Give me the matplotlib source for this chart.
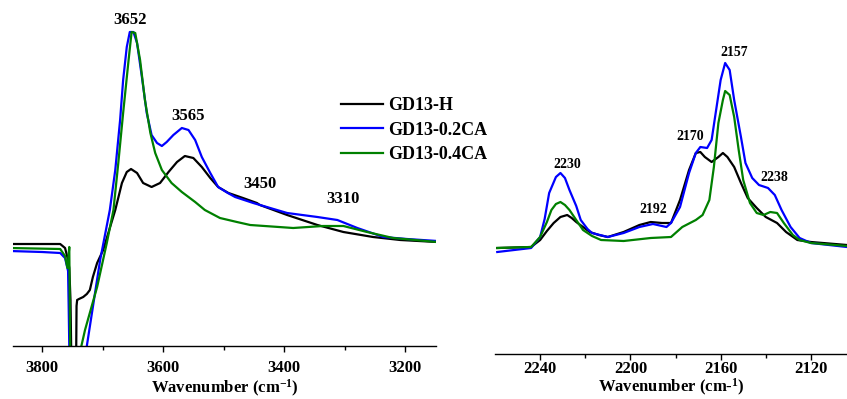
import matplotlib
matplotlib.use('Agg')
import matplotlib.pyplot as plt

plt.rcParams['font.family'] = ['Liberation Serif', 'DejaVu Serif']
plt.rcParams['font.weight'] = 'bold'
plt.rcParams['mathtext.fontset'] = 'custom'
plt.rcParams['mathtext.rm'] = 'Liberation Serif:bold'
plt.rcParams['mathtext.bf'] = 'Liberation Serif:bold'
plt.rcParams['mathtext.default'] = 'bf'

# ---- OH region (left panel), heights in arbitrary units ----
oh_h_wn = [3853, 3800, 3770, 3762, 3757, 3755, 3753, 3751, 3746, 3744, 3743, 3742, 3739,
           3732, 3726, 3721, 3716, 3709, 3699, 3688, 3679, 3668, 3660, 3653, 3643, 3633,
           3619, 3605, 3591, 3577, 3564, 3550, 3536, 3522, 3509, 3492, 3468, 3445, 3440,
           3395, 3345, 3302, 3253, 3208, 3147]
oh_h = [102, 102, 102, 98, 86, 78, 46, -40, -40, -40, 40, 46, 47,
        49, 52, 56, 69, 83, 96, 118, 136, 163, 174, 177, 173, 163,
        159, 163, 174, 184, 190, 188, 179, 168, 159, 153, 148, 143, 141,
        131, 121, 114, 109, 106, 104]

oh_b_wn = [3853, 3800, 3770, 3762, 3757, 3756, 3754, 3728, 3726, 3704, 3688, 3679, 3671,
           3666, 3660, 3655, 3649, 3643, 3635, 3627, 3619, 3610, 3602, 3594, 3583, 3569,
           3558, 3547, 3536, 3522, 3509, 3493, 3481, 3451, 3395, 3345, 3312, 3279, 3236,
           3197, 3147]
oh_b = [95, 94, 93, 88, 75, 40, -40, -10, 0, 86, 136, 176, 226,
        266, 299, 314, 314, 303, 269, 233, 211, 203, 200, 204, 211, 218,
        216, 206, 189, 173, 159, 153, 149, 143, 133, 129, 126, 118, 109,
        107, 105]

oh_g_wn = [3853, 3770, 3762, 3758, 3755, 3753, 3737, 3735, 3729, 3709, 3693, 3682, 3674,
           3666, 3657, 3652, 3646, 3638, 3630, 3621, 3613, 3602, 3586, 3569, 3547, 3531,
           3506, 3478, 3456, 3385, 3336, 3302, 3263, 3220, 3147]
oh_g = [98, 97, 90, 78, 99, -40, -10, 0, 16, 59, 103, 136, 183,
        233, 286, 314, 313, 286, 246, 213, 193, 176, 163, 154, 144, 136,
        128, 124, 121, 118, 120, 120, 114, 108, 104]

# ---- CO region (right panel) ----
co_h_wn = [2259, 2244, 2240, 2237, 2234, 2231, 2228, 2226, 2224, 2221, 2218, 2214, 2210,
           2203, 2196, 2191, 2186, 2182, 2178, 2174, 2171, 2169, 2167, 2164, 2161, 2159,
           2157, 2154, 2151, 2148, 2144, 2140, 2135, 2131, 2126, 2120, 2104]
co_h = [106, 107, 114, 123, 131, 137, 139, 136, 132, 127, 122, 119, 117,
        122, 129, 132, 131, 131, 154, 184, 201, 202, 197, 192, 197, 201,
        197, 187, 171, 156, 146, 137, 131, 122, 114, 112, 109]

co_b_wn = [2259, 2244, 2240, 2238, 2236, 2233, 2231, 2229, 2227, 2224, 2222, 2219, 2217,
           2210, 2203, 2196, 2190, 2184, 2182, 2178, 2174, 2171, 2169, 2166, 2164, 2162,
           2160, 2158, 2156, 2154, 2151, 2149, 2146, 2143, 2139, 2136, 2133, 2129, 2125,
           2120, 2104]
co_b = [102, 106, 117, 135, 161, 177, 181, 176, 164, 148, 134, 125, 121,
        117, 121, 127, 130, 127, 131, 147, 181, 201, 207, 206, 214, 244,
        274, 291, 284, 254, 217, 191, 176, 169, 166, 159, 144, 127, 116,
        111, 107]

co_g_wn = [2259, 2244, 2240, 2237, 2235, 2233, 2231, 2229, 2227, 2224, 2221, 2217, 2213,
           2203, 2191, 2182, 2177, 2171, 2168, 2165, 2163, 2161, 2159, 2158, 2156, 2154,
           2152, 2150, 2147, 2144, 2141, 2138, 2135, 2132, 2128, 2125, 2120, 2104]
co_g = [106, 107, 117, 132, 144, 150, 152, 149, 144, 134, 124, 118, 114,
        113, 116, 117, 127, 134, 139, 154, 187, 231, 254, 263, 259, 237,
        204, 174, 151, 141, 139, 142, 141, 131, 119, 114, 111, 108]

labels = ['GD13-H', 'GD13-0.2CA', 'GD13-0.4CA']
colors = ['black', '#0000ff', '#008000']

oh_peaks = [(3655, 318, '3652'), (3559, 222, '3565'), (3440, 154, '3450'), (3302, 139, '3310')]
co_peaks = [(2228, 183, '2230'), (2190, 138, '2192'), (2173.6, 211, '2170'),
            (2154, 295, '2157'), (2136, 170, '2238')]

W, H = 847, 399
fig = plt.figure(figsize=(W / 100, H / 100), dpi=100)
ax1 = fig.add_axes([13 / W, (H - 346) / H, 423 / W, 346 / H])
ax2 = fig.add_axes([495 / W, (H - 354) / H, 352 / W, 354 / H])

lines = []
for wn, y, c, lab in zip([oh_h_wn, oh_b_wn, oh_g_wn], [oh_h, oh_b, oh_g], colors, labels):
    l, = ax1.plot(wn, y, color=c, lw=1.6, label=lab)
    lines.append(l)
for wn, y, c in zip([co_h_wn, co_b_wn, co_g_wn], [co_h, co_b, co_g], colors):
    ax2.plot(wn, y, color=c, lw=1.6)

for x, y, t in oh_peaks:
    ax1.text(x, y, t, ha='center', va='bottom', fontsize=12, fontweight='bold')
for x, y, t in co_peaks:
    ax2.text(x, y, t, ha='center', va='bottom', fontsize=10, fontweight='bold')

ax1.set_xlim(3848, 3149)
ax1.set_ylim(0, 346)
ax2.set_xlim(2260, 2104)
ax2.set_ylim(0, 354)
ax1.set_xticks([3800, 3600, 3400, 3200])
ax1.set_xticks([3700, 3500, 3300], minor=True)
ax2.set_xticks([2240, 2200, 2160, 2120])
ax2.set_xticks([2220, 2180, 2140], minor=True)

for ax in (ax1, ax2):
    for s in ('left', 'top', 'right'):
        ax.spines[s].set_visible(False)
    ax.spines['bottom'].set_linewidth(1.0)
    ax.set_yticks([])
    ax.tick_params(axis='x', which='major', direction='out', length=4, width=1, labelsize=12)
    ax.tick_params(axis='x', which='minor', direction='out', length=3, width=1)
    for lbl in ax.get_xticklabels():
        lbl.set_fontweight('bold')

ax1.tick_params(axis='x', which='major', pad=6)
ax2.tick_params(axis='x', which='major', pad=1)
ax1.set_xlabel(r'Wavenumber (cm$^{-1}$)', fontsize=12, fontweight='bold', labelpad=1.5)
ax2.set_xlabel(r'Wavenumber (cm-$^{1}$)', fontsize=12, fontweight='bold', labelpad=0)

fig.legend(handles=lines, loc='upper left', bbox_to_anchor=(341 / W, 1 - 97 / H),
           frameon=False, borderpad=0, borderaxespad=0, handlelength=2.3,
           handletextpad=0.3, labelspacing=0.42, prop={'size': 13, 'weight': 'bold'})

fig.savefig('out.png', dpi=100)
